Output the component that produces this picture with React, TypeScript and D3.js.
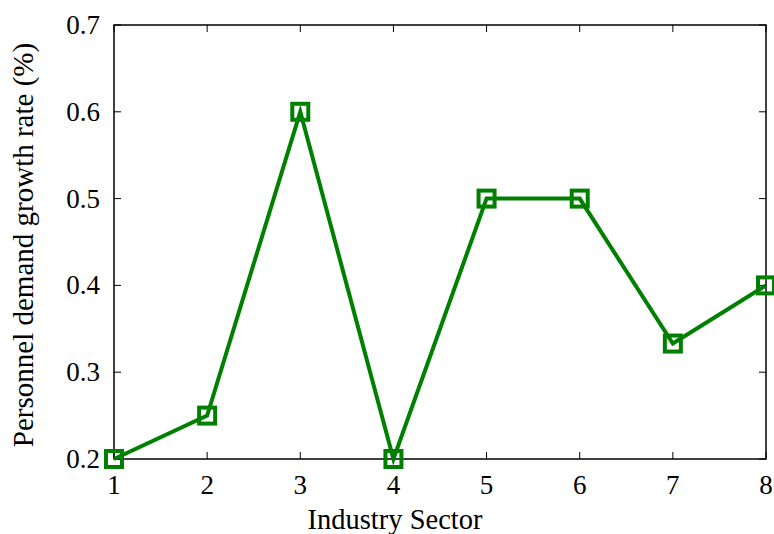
import React from "react";
import * as d3 from "d3";

const sectors = [1, 2, 3, 4, 5, 6, 7, 8];
const growth = [0.2, 0.25, 0.6, 0.2, 0.5, 0.5, 0.333, 0.4];
const yTicks = [0.2, 0.3, 0.4, 0.5, 0.6, 0.7];
const xLabel = "Industry Sector";
const yLabel = "Personnel demand growth rate (%)";

const W = 774;
const H = 534;
const M = { left: 114, right: 8, top: 25, bottom: 75 };

export default function App() {
  const x = d3.scaleLinear().domain([1, 8]).range([M.left, W - M.right]);
  const y = d3.scaleLinear().domain([0.2, 0.7]).range([H - M.bottom, M.top]);
  const line = d3
    .line<number>()
    .x((_, i) => x(sectors[i]))
    .y((d) => y(d));
  const font = "Liberation Serif, Times New Roman, Times, serif";
  const green = "#008000";
  const tk = 7;
  const x0 = x.range()[0], x1 = x.range()[1];
  const y0 = y.range()[0], y1 = y.range()[1];
  const ms = 16;
  return (
    <svg
      width={W}
      height={H}
      style={{ position: "absolute", left: 0, top: 0, background: "#fff" }}
    >
      <rect x={x0} y={y1} width={x1 - x0} height={y0 - y1} fill="none" stroke="#000" strokeWidth={1.5} />
      {sectors.map((s) => (
        <g key={"xt" + s}>
          <line x1={x(s)} x2={x(s)} y1={y0} y2={y0 - tk} stroke="#000" strokeWidth={1} />
          <line x1={x(s)} x2={x(s)} y1={y1} y2={y1 + tk} stroke="#000" strokeWidth={1} />
          <text x={x(s)} y={y0 + 35} textAnchor="middle" style={{ fontFamily: font, fontSize: 27 }}>
            {s}
          </text>
        </g>
      ))}
      {yTicks.map((t) => (
        <g key={"yt" + t}>
          <line x1={x0} x2={x0 + tk} y1={y(t)} y2={y(t)} stroke="#000" strokeWidth={1} />
          <line x1={x1} x2={x1 - tk} y1={y(t)} y2={y(t)} stroke="#000" strokeWidth={1} />
          <text x={x0 - 14} y={y(t) + 9} textAnchor="end" style={{ fontFamily: font, fontSize: 27 }}>
            {t.toFixed(1)}
          </text>
        </g>
      ))}
      <text x={395} y={529} textAnchor="middle" style={{ fontFamily: font, fontSize: 28.5 }}>
        {xLabel}
      </text>
      <text
        transform={`translate(33, 245) rotate(-90)`}
        textAnchor="middle"
        style={{ fontFamily: font, fontSize: 29 }}
      >
        {yLabel}
      </text>
      <path d={line(growth) || ""} fill="none" stroke={green} strokeWidth={4} strokeLinejoin="miter" />
      {growth.map((v, i) => (
        <rect
          key={"m" + i}
          x={x(sectors[i]) - ms / 2}
          y={y(v) - ms / 2}
          width={ms}
          height={ms}
          fill="none"
          stroke={green}
          strokeWidth={4}
        />
      ))}
    </svg>
  );
}
